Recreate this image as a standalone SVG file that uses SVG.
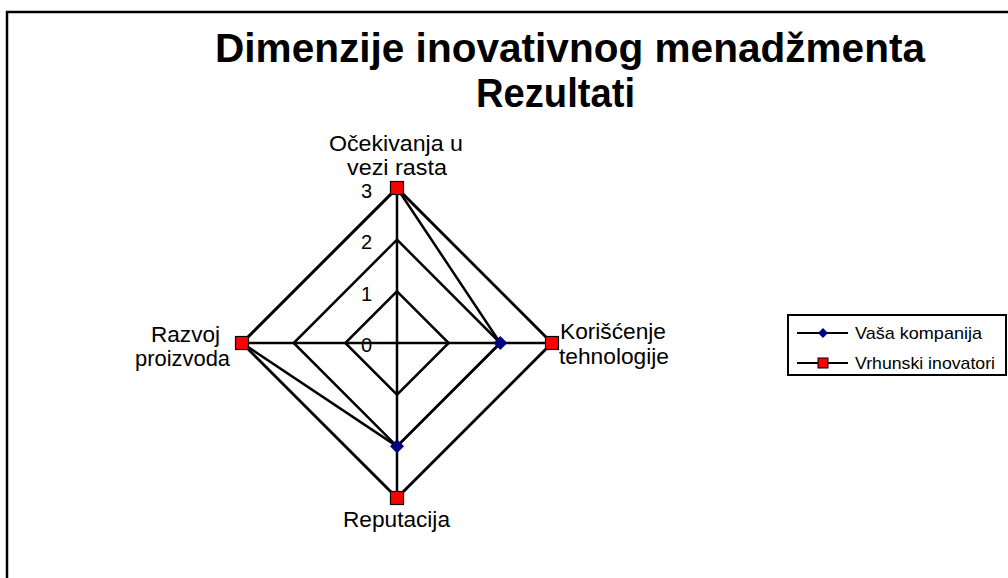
<svg xmlns="http://www.w3.org/2000/svg" width="1008" height="578" viewBox="0 0 1008 578">
<style>
text{font-family:"Liberation Sans",Arial,sans-serif;fill:#000}
.title{font-weight:bold;font-size:40px}
.lbl{font-size:22px}
.ax{font-size:20px;text-anchor:end}
.leg{font-size:17px}
.grid{fill:none;stroke:#000;stroke-width:2.5}
.ser{fill:none;stroke:#000;stroke-width:2.5;stroke-linejoin:miter}
</style>
<defs>
<rect id="sq" x="-6.5" y="-6.5" width="13" height="13" fill="#ff0000" stroke="#000" stroke-width="1.2"/>
<path id="dm" d="M0,-7 L7,0 L0,7 L-7,0 Z" fill="#000080"/>
</defs>
<rect x="0" y="0" width="1008" height="578" fill="#fff"/>
<rect id="frame" x="7" y="12" width="1010" height="580" fill="none" stroke="#000" stroke-width="2.5"/>
<g id="title">
<text class="title" x="215" y="62" textLength="710" lengthAdjust="spacingAndGlyphs">Dimenzije inovativnog menadžmenta</text>
<text class="title" x="476" y="107" textLength="159" lengthAdjust="spacingAndGlyphs">Rezultati</text>
</g>
<g id="grid">
<path class="grid" d="M397,291.3 L448.7,343 L397,394.7 L345.3,343 Z"/>
<path class="grid" d="M397,239.7 L500.3,343 L397,446.3 L293.7,343 Z"/>
<path class="grid" d="M397,188 L552,343 L397,498 L242,343 Z"/>
<line class="grid" x1="397" y1="188" x2="397" y2="498"/>
<line class="grid" x1="242" y1="343" x2="552" y2="343"/>
</g>
<g id="axis-labels">
<text class="ax" x="372" y="198">3</text>
<text class="ax" x="372" y="249">2</text>
<text class="ax" x="372" y="301">1</text>
<text class="ax" x="372" y="352">0</text>
</g>
<g id="connectors">
<path id="vasa-line" class="ser" d="M397,188 L500.3,343 L397,446.3 L242,343 Z"/>
<path id="vrh-line" class="ser" d="M397,188 L552,343 L397,498 L242,343 Z"/>
</g>
<g id="series-vasa">
<use href="#dm" x="397" y="188"/>
<use href="#dm" x="500.3" y="343"/>
<use href="#dm" x="397" y="446.3"/>
<use href="#dm" x="242" y="343"/>
</g>
<g id="series-vrhunski">
<use href="#sq" x="397" y="188"/>
<use href="#sq" x="552" y="343"/>
<use href="#sq" x="397" y="498"/>
<use href="#sq" x="242" y="343"/>
</g>
<g id="cat-ocekivanja">
<text class="lbl" x="329" y="151" textLength="134" lengthAdjust="spacingAndGlyphs">Očekivanja u</text>
<text class="lbl" x="347" y="175" textLength="100" lengthAdjust="spacingAndGlyphs">vezi rasta</text>
</g>
<g id="cat-koriscenje">
<text class="lbl" x="560" y="339" textLength="106" lengthAdjust="spacingAndGlyphs">Korišćenje</text>
<text class="lbl" x="559" y="364" textLength="110" lengthAdjust="spacingAndGlyphs">tehnologije</text>
</g>
<g id="cat-reputacija">
<text class="lbl" x="343" y="527" textLength="107" lengthAdjust="spacingAndGlyphs">Reputacija</text>
</g>
<g id="cat-razvoj">
<text class="lbl" x="151" y="342" textLength="69" lengthAdjust="spacingAndGlyphs">Razvoj</text>
<text class="lbl" x="135" y="366" textLength="95" lengthAdjust="spacingAndGlyphs">proizvoda</text>
</g>
<g id="legend">
<rect x="788" y="315" width="218" height="60" fill="#fff" stroke="#000" stroke-width="2"/>
<line x1="797" y1="333" x2="848" y2="333" stroke="#000" stroke-width="2"/>
<path d="M823,328 L828,333 L823,338 L818,333 Z" fill="#000080"/>
<text class="leg" x="855" y="339" textLength="127" lengthAdjust="spacingAndGlyphs">Vaša kompanija</text>
<line x1="797" y1="363" x2="848" y2="363" stroke="#000" stroke-width="2"/>
<rect x="818" y="358" width="10" height="10" fill="#ff0000" stroke="#000" stroke-width="1"/>
<text class="leg" x="855" y="369" textLength="140" lengthAdjust="spacingAndGlyphs">Vrhunski inovatori</text>
</g>
</svg>
